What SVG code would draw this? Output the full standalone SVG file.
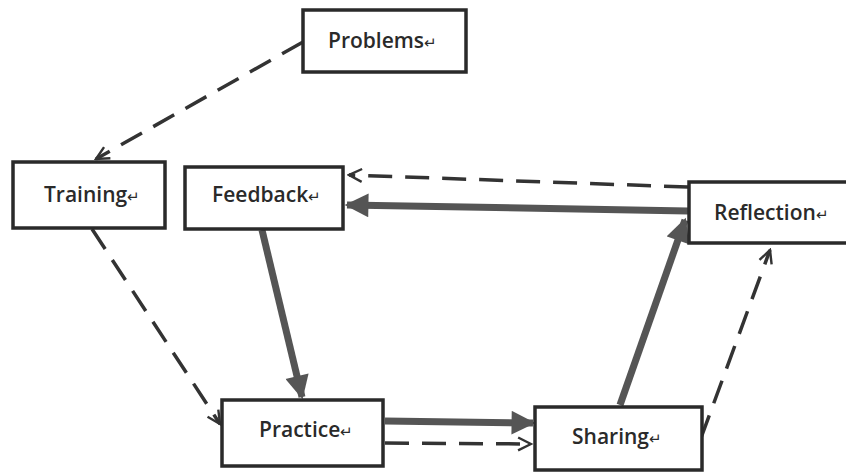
<svg xmlns="http://www.w3.org/2000/svg" width="846" height="474" viewBox="0 0 846 474">
  <style>
    .box { fill: #ffffff; stroke: #2a2a2a; stroke-width: 3.5; }
    .label { font-family: "Open Sans", "Liberation Sans", sans-serif; font-weight: 600; font-size: 21px; fill: #2a2a2a; }
    .mark { font-size: 15px; font-weight: 400; }
    .solid { stroke: #555555; stroke-width: 7; fill: none; }
    .dash { stroke: #333333; stroke-width: 3.5; fill: none; stroke-dasharray: 24 13; }
  </style>
  <defs>
    <marker id="head-solid" viewBox="0 0 10 10" refX="9" refY="5" markerWidth="3.6" markerHeight="3.4" orient="auto" markerUnits="strokeWidth">
      <path d="M0,0 L10,5 L0,10 z" fill="#555555"/>
    </marker>
    <marker id="head-open" viewBox="0 0 10 10" refX="9" refY="5" markerWidth="4.6" markerHeight="4.6" orient="auto" markerUnits="strokeWidth">
      <path d="M1,1 L9,5 L1,9" fill="none" stroke="#333333" stroke-width="1.5"/>
    </marker>
  </defs>
  <rect width="846" height="474" fill="#ffffff"/>

  <g id="connectors">
    <!-- dashed links -->
    <line class="dash" x1="303" y1="42" x2="96" y2="159" marker-end="url(#head-open)"/>
    <line class="dash" x1="92" y1="229" x2="220" y2="424" marker-end="url(#head-open)"/>
    <line class="dash" x1="385" y1="443" x2="531" y2="444" marker-end="url(#head-open)"/>
    <line class="dash" x1="701" y1="438" x2="770" y2="250" marker-end="url(#head-open)"/>
    <line class="dash" x1="688" y1="187" x2="349" y2="175" marker-end="url(#head-open)"/>
    <!-- solid links -->
    <line class="solid" x1="262" y1="230" x2="302" y2="397" marker-end="url(#head-solid)"/>
    <line class="solid" x1="385" y1="421" x2="533" y2="423" marker-end="url(#head-solid)"/>
    <line class="solid" x1="620" y1="405" x2="685" y2="220" marker-end="url(#head-solid)"/>
    <line class="solid" x1="688" y1="211" x2="347" y2="205" marker-end="url(#head-solid)"/>
  </g>

  <g id="problems">
    <rect class="box" x="303" y="10" width="163" height="62"/>
    <text class="label" x="328" y="48">Problems<tspan class="mark">↵</tspan></text>
  </g>
  <g id="training">
    <rect class="box" x="13" y="162" width="152" height="66"/>
    <text class="label" x="44" y="202">Training<tspan class="mark">↵</tspan></text>
  </g>
  <g id="feedback">
    <rect class="box" x="185" y="167" width="158" height="62"/>
    <text class="label" x="212" y="202">Feedback<tspan class="mark">↵</tspan></text>
  </g>
  <g id="reflection">
    <rect class="box" x="689" y="182" width="160" height="61"/>
    <text class="label" x="714" y="220">Reflection<tspan class="mark">↵</tspan></text>
  </g>
  <g id="practice">
    <rect class="box" x="222" y="400" width="161" height="66"/>
    <text class="label" x="259" y="437">Practice<tspan class="mark">↵</tspan></text>
  </g>
  <g id="sharing">
    <rect class="box" x="535" y="407" width="167" height="63"/>
    <text class="label" x="572" y="444">Sharing<tspan class="mark">↵</tspan></text>
  </g>
</svg>
